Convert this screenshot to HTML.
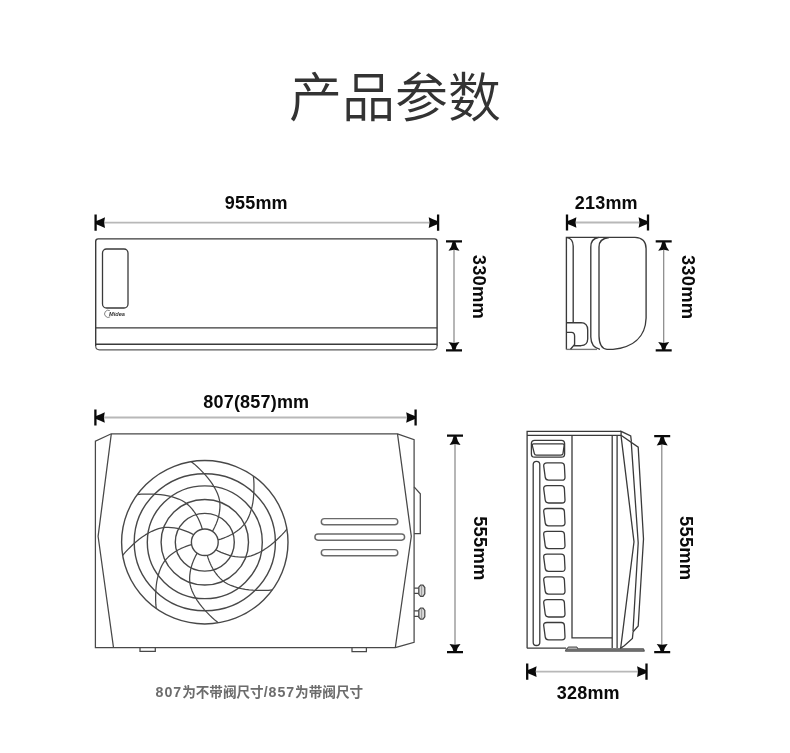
<!DOCTYPE html>
<html lang="zh-CN">
<head>
<meta charset="utf-8">
<title>产品参数</title>
<style>
html,body{margin:0;padding:0;background:#fff;}
body{width:790px;height:753px;overflow:hidden;position:relative;font-family:"Liberation Sans","Noto Sans CJK SC",sans-serif;}
h1{position:absolute;left:0;top:60px;width:790px;margin:0;text-align:center;font-size:53px;line-height:78px;font-weight:350;color:#333;letter-spacing:0;font-family:"Liberation Sans","Noto Sans CJK SC",sans-serif;}
svg{position:absolute;left:0;top:0;will-change:transform;}
.dim{font-family:"Liberation Sans",sans-serif;font-weight:700;fill:#0a0a0a;letter-spacing:0.2px;}
</style>
</head>
<body>
<h1>产品参数</h1>
<svg width="790" height="753" viewBox="0 0 790 753">
<g id="indoor-front" fill="none" stroke="#3a3a3a" stroke-width="1.4">
<path d="M95.7 346V241.4Q95.7 238.9 98.2 238.9H434.6Q437.1 238.9 437.1 241.4V346"/>
<path d="M95.7 346Q95.7 349.8 99.5 349.8H433.3Q437.1 349.8 437.1 346" stroke="#5a5a5a" stroke-width="1.2"/>
<path d="M95.8 327.9H437.1M95.8 344.3H437.1"/>
<rect x="102.5" y="249" width="25.5" height="59" rx="4" ry="4" stroke-width="1.3"/>
</g>
<path d="M109.8 310.6a3.6 3.6 0 1 0 0.4 6.2" fill="none" stroke="#666" stroke-width="0.8"/>
<text x="109" y="316.3" font-size="5.6" font-weight="700" font-style="italic" fill="#333" font-family="'Liberation Sans', sans-serif">Midea</text>
<line x1="104" y1="222.6" x2="429.7" y2="222.6" stroke="#b8b8b8" stroke-width="1.8"/>
<path d="M95.6 214.5V230.7M438.1 214.5V230.7" stroke="#0a0a0a" stroke-width="2.3" fill="none"/>
<path d="M95.6 221.3Q101.24 219.1 105 217.3L104.1 222.6L105 227.9Q101.24 226.1 95.6 223.9Z" fill="#0a0a0a"/>
<path d="M438.1 223.9Q432.46 226.1 428.7 227.9L429.6 222.6L428.7 217.3Q432.46 219.1 438.1 221.3Z" fill="#0a0a0a"/>
<text x="256.3" y="209.1" text-anchor="middle" class="dim" font-size="18">955mm</text>
<line x1="454" y1="249.7" x2="454" y2="343.1" stroke="#858585" stroke-width="1.2"/>
<path d="M446 241.4H462M446 350.4H462" stroke="#0a0a0a" stroke-width="2.3" fill="none"/>
<path d="M455.3 241.4Q456.31 246.98 459.5 250.7L454 249.8L448.5 250.7Q451.69 246.98 452.7 241.4Z" fill="#0a0a0a"/>
<path d="M452.7 350.4Q451.69 345.42 448.5 342.1L454 343L459.5 342.1Q456.31 345.42 455.3 350.4Z" fill="#0a0a0a"/>
<text transform="translate(473.2,286.9) rotate(90)" text-anchor="middle" class="dim" font-size="18.3" style="letter-spacing:0.25px">330mm</text>
<g id="indoor-side" fill="none" stroke="#3a3a3a" stroke-width="1.35">
<path d="M566.4 349.4V237.3H635C642.5 237.6 646.1 241.5 646.1 248.8V318C645.5 338 632 347.5 613 349.3H607Q599.3 348.6 599 336V247Q599 238.5 609 237.5"/>
<path d="M566.4 349.4H597" stroke="#777"/>
<path d="M567 237.6Q573 238.5 573.2 246V322.7"/>
<path d="M598.5 237.5Q590.8 238.5 590.8 247V337Q591 347.5 600 349.3"/>
<path d="M566.4 322.7H581Q587.7 323 587.7 330V339Q587.5 345.5 581 345.7H574"/>
<path d="M566.4 332.4H571.5Q574.6 332.6 574.6 336V344.5L570.5 349.2"/>
</g>
<line x1="575.4" y1="222.5" x2="639.6" y2="222.5" stroke="#b8b8b8" stroke-width="1.8"/>
<path d="M567 214.4V230.6M648 214.4V230.6" stroke="#0a0a0a" stroke-width="2.3" fill="none"/>
<path d="M567 221.2Q572.64 219 576.4 217.2L575.5 222.5L576.4 227.8Q572.64 226 567 223.8Z" fill="#0a0a0a"/>
<path d="M648 223.8Q642.36 226 638.6 227.8L639.5 222.5L638.6 217.2Q642.36 219 648 221.2Z" fill="#0a0a0a"/>
<text x="606.3" y="209.1" text-anchor="middle" class="dim" font-size="18">213mm</text>
<line x1="663.7" y1="249.7" x2="663.7" y2="343.1" stroke="#858585" stroke-width="1.2"/>
<path d="M655.7 241.4H671.7M655.7 350.4H671.7" stroke="#0a0a0a" stroke-width="2.3" fill="none"/>
<path d="M665 241.4Q666.01 246.98 669.2 250.7L663.7 249.8L658.2 250.7Q661.39 246.98 662.4 241.4Z" fill="#0a0a0a"/>
<path d="M662.4 350.4Q661.39 345.42 658.2 342.1L663.7 343L669.2 342.1Q666.01 345.42 665 350.4Z" fill="#0a0a0a"/>
<text transform="translate(682.2,287) rotate(90)" text-anchor="middle" class="dim" font-size="18.3" style="letter-spacing:0.25px">330mm</text>
<g id="outdoor-front" fill="none" stroke="#484848" stroke-width="1.25">
<path d="M111.3 433.8H397.5L414.1 439.7V642.3L401.5 645.9L395.3 647.6H95.4V441.1Z"/>
<path d="M111.3 433.8L98.1 536.3L113.5 647.6"/>
<path d="M397.5 433.8L411.3 536.3L395.3 647.6"/>
<path d="M140 647.6V651.3H155.3V647.6M352 647.6V651.6H366.4V647.6"/>
<path d="M414.1 486.9L420.3 493.8V533.6H414.1"/>
<g stroke="#6a6a6a" stroke-width="1.45">
<rect x="321.3" y="518.6" width="76.5" height="6.2" rx="3.1"/>
<rect x="314.9" y="534" width="89.7" height="6.2" rx="3.1"/>
<rect x="321.3" y="549.6" width="76.5" height="6.2" rx="3.1"/>
</g>
<path d="M414.1 588H418.8M414.1 593.4H418.8"/>
<path d="M418.8 587.1L420.6 585.1H423L424.8 587.5V593.9L423 596.3H420.6L418.8 594.3Z" fill="#d8d8d8"/>
<path d="M421.6 585.3V596.1" stroke="#888" stroke-width="0.8"/>
<path d="M414.1 610.9H418.8M414.1 616.3H418.8"/>
<path d="M418.8 610L420.6 608H423L424.8 610.4V616.8L423 619.2H420.6L418.8 617.2Z" fill="#d8d8d8"/>
<path d="M421.6 608.2V619" stroke="#888" stroke-width="0.8"/>
<ellipse cx="204.8" cy="542.25" rx="83.2" ry="81.7" stroke-width="1.4"/>
<ellipse cx="204.8" cy="542.25" rx="70.6" ry="68.5" stroke-width="1.4"/>
<ellipse cx="204.8" cy="542.25" rx="57.5" ry="56.4" stroke-width="1.4"/>
<ellipse cx="204.8" cy="542.25" rx="43.7" ry="42.8" stroke-width="1.4"/>
<ellipse cx="204.8" cy="542.25" rx="29.5" ry="28.9" stroke-width="1.4"/>
<ellipse cx="204.8" cy="542.25" rx="13.4" ry="13.3" stroke-width="1.4"/>
<path d="M215.82 549.73L218.41 551.07L221.05 552.31L223.76 553.44L226.53 554.45L229.36 555.32L232.27 556.03L235.23 556.58L238.26 556.96L241.35 557.13L244.51 557.05L247.75 556.66L251.06 555.87L254.42 554.68L257.76 553.18L261.05 551.46L264.26 549.6L267.41 547.5L270.48 545.19L273.46 542.73L276.34 540.17L279.12 537.56L281.82 534.88L284.42 532.07L286.91 529.06" stroke-width="1.25" stroke-linejoin="round"/>
<path d="M207.2 555.18L208.06 557.93L209.04 560.64L210.14 563.31L211.37 565.95L212.75 568.53L214.29 571.05L215.99 573.49L217.85 575.86L219.92 578.13L222.21 580.27L224.78 582.23L227.7 583.97L230.92 585.46L234.37 586.71L237.93 587.78L241.55 588.69L245.29 589.39L249.12 589.89L253 590.22L256.89 590.4L260.74 590.49L264.57 590.46L268.43 590.28L272.37 589.88" stroke-width="1.25" stroke-linejoin="round"/>
<path d="M197.17 553.06L195.81 555.6L194.55 558.19L193.39 560.85L192.36 563.56L191.48 566.34L190.75 569.2L190.19 572.11L189.8 575.07L189.63 578.11L189.71 581.21L190.11 584.38L190.92 587.63L192.13 590.92L193.66 594.2L195.41 597.43L197.31 600.58L199.45 603.67L201.8 606.68L204.31 609.6L206.93 612.43L209.58 615.16L212.31 617.8L215.17 620.36L218.25 622.8" stroke-width="1.25" stroke-linejoin="round"/>
<path d="M191.62 544.6L188.82 545.45L186.06 546.41L183.33 547.49L180.64 548.69L178.01 550.04L175.45 551.56L172.95 553.23L170.54 555.06L168.23 557.08L166.05 559.33L164.04 561.85L162.27 564.71L160.76 567.88L159.48 571.26L158.39 574.75L157.46 578.3L156.74 581.97L156.23 585.73L155.91 589.53L155.72 593.35L155.63 597.12L155.65 600.89L155.84 604.68L156.25 608.53" stroke-width="1.25" stroke-linejoin="round"/>
<path d="M193.78 534.77L191.19 533.43L188.55 532.19L185.84 531.06L183.07 530.05L180.24 529.18L177.33 528.47L174.37 527.92L171.34 527.54L168.25 527.37L165.09 527.45L161.85 527.84L158.54 528.63L155.18 529.82L151.84 531.32L148.55 533.04L145.34 534.9L142.19 537L139.12 539.31L136.14 541.77L133.26 544.33L130.48 546.94L127.78 549.62L125.18 552.43L122.69 555.44" stroke-width="1.25" stroke-linejoin="round"/>
<path d="M202.4 529.32L201.54 526.57L200.56 523.86L199.46 521.19L198.23 518.55L196.85 515.97L195.31 513.45L193.61 511.01L191.75 508.64L189.68 506.37L187.39 504.23L184.82 502.27L181.9 500.53L178.68 499.04L175.23 497.79L171.67 496.72L168.05 495.81L164.31 495.11L160.48 494.61L156.6 494.28L152.71 494.1L148.86 494.01L145.03 494.04L141.17 494.22L137.23 494.62" stroke-width="1.25" stroke-linejoin="round"/>
<path d="M212.43 531.44L213.79 528.9L215.05 526.31L216.21 523.65L217.24 520.94L218.12 518.16L218.85 515.3L219.41 512.39L219.8 509.43L219.97 506.39L219.89 503.29L219.49 500.12L218.68 496.87L217.47 493.58L215.94 490.3L214.19 487.07L212.29 483.92L210.15 480.83L207.8 477.82L205.29 474.9L202.67 472.07L200.02 469.34L197.29 466.7L194.43 464.14L191.35 461.7" stroke-width="1.25" stroke-linejoin="round"/>
<path d="M217.98 539.9L220.78 539.05L223.54 538.09L226.27 537.01L228.96 535.81L231.59 534.46L234.15 532.94L236.65 531.27L239.06 529.44L241.37 527.42L243.55 525.17L245.56 522.65L247.33 519.79L248.84 516.62L250.12 513.24L251.21 509.75L252.14 506.2L252.86 502.53L253.37 498.77L253.69 494.97L253.88 491.15L253.97 487.38L253.95 483.61L253.76 479.82L253.35 475.97" stroke-width="1.25" stroke-linejoin="round"/>
</g>
<line x1="103.8" y1="417.5" x2="407.2" y2="417.5" stroke="#b8b8b8" stroke-width="1.8"/>
<path d="M95.4 409.4V425.6M415.6 409.4V425.6" stroke="#0a0a0a" stroke-width="2.3" fill="none"/>
<path d="M95.4 416.2Q101.04 414 104.8 412.2L103.9 417.5L104.8 422.8Q101.04 421 95.4 418.8Z" fill="#0a0a0a"/>
<path d="M415.6 418.8Q409.96 421 406.2 422.8L407.1 417.5L406.2 412.2Q409.96 414 415.6 416.2Z" fill="#0a0a0a"/>
<text x="256.3" y="407.5" text-anchor="middle" class="dim" font-size="18">807(857)mm</text>
<line x1="455" y1="444" x2="455" y2="644.9" stroke="#858585" stroke-width="1.2"/>
<path d="M447 435.7H463M447 652.2H463" stroke="#0a0a0a" stroke-width="2.3" fill="none"/>
<path d="M456.3 435.7Q457.31 441.28 460.5 445L455 444.1L449.5 445Q452.69 441.28 453.7 435.7Z" fill="#0a0a0a"/>
<path d="M453.7 652.2Q452.69 647.22 449.5 643.9L455 644.8L460.5 643.9Q457.31 647.22 456.3 652.2Z" fill="#0a0a0a"/>
<text transform="translate(474,548.3) rotate(90)" text-anchor="middle" class="dim" font-size="18.3" style="letter-spacing:0.25px">555mm</text>
<g id="outdoor-side" fill="none" stroke="#3a3a3a" stroke-width="1.3">
<path d="M527.1 648.2V431.4H621.1M527.1 435.3H621"/>
<path d="M527.1 648.2H566" />
<path d="M572 435.3V637.9H612.2"/>
<path d="M612.2 435.3V648M617.1 435.3V648" stroke-width="1.3"/>
<path d="M621.1 435.3V431.4L630.7 436L631.4 441.6"/>
<path d="M621 435.3L638.2 447.1L643.5 539L638.2 626L633.1 631.8L632.4 638.4L624.3 645.7L620 648.6"/>
<path d="M631.2 441.6L638.2 543L633 631"/>
<path d="M621 435.3L634 541.8L620.7 648"/>
<path d="M566.3 648.8H643.6L644.4 651.2H565.4Z" fill="#7c7c7c" stroke="#444" stroke-width="0.9"/>
<path d="M567.2 648.8L568.2 647H577L577.8 648.8" fill="#bbb" stroke-width="0.9"/>
<rect x="531.4" y="440.4" width="33.2" height="16.8" rx="3.2"/>
<path d="M533.6 443.9H562.6Q564.4 444 564.1 445.8L563 453.4Q562.7 455.1 561 455.1H536.4Q534.7 455.1 534.3 453.4L532.4 445.8Q532 444 533.6 443.9Z"/>
<path d="M533.2 642.2V464.6A3.3 3.3 0 0 1 539.8 464.6V642.2A3.3 3.3 0 0 1 533.2 642.2Z"/>
<path d="M547 462.9H561.2Q564.3 462.9 564.4 465.9L565 477.2Q565.1 480.2 562 480.2H548.6Q545.6 480.2 545.2 477.2L543.7 465.9Q543.4 462.9 547 462.9Z"/>
<path d="M547 485.7H561.2Q564.3 485.7 564.4 488.7L565 500Q565.1 503 562 503H548.6Q545.6 503 545.2 500L543.7 488.7Q543.4 485.7 547 485.7Z"/>
<path d="M547 508.5H561.2Q564.3 508.5 564.4 511.5L565 522.8Q565.1 525.8 562 525.8H548.6Q545.6 525.8 545.2 522.8L543.7 511.5Q543.4 508.5 547 508.5Z"/>
<path d="M547 531.3H561.2Q564.3 531.3 564.4 534.3L565 545.6Q565.1 548.6 562 548.6H548.6Q545.6 548.6 545.2 545.6L543.7 534.3Q543.4 531.3 547 531.3Z"/>
<path d="M547 554.1H561.2Q564.3 554.1 564.4 557.1L565 568.4Q565.1 571.4 562 571.4H548.6Q545.6 571.4 545.2 568.4L543.7 557.1Q543.4 554.1 547 554.1Z"/>
<path d="M547 576.9H561.2Q564.3 576.9 564.4 579.9L565 591.2Q565.1 594.2 562 594.2H548.6Q545.6 594.2 545.2 591.2L543.7 579.9Q543.4 576.9 547 576.9Z"/>
<path d="M547 599.7H561.2Q564.3 599.7 564.4 602.7L565 614Q565.1 617 562 617H548.6Q545.6 617 545.2 614L543.7 602.7Q543.4 599.7 547 599.7Z"/>
<path d="M547 622.5H561.2Q564.3 622.5 564.4 625.5L565 636.8Q565.1 639.8 562 639.8H548.6Q545.6 639.8 545.2 636.8L543.7 625.5Q543.4 622.5 547 622.5Z"/>
</g>
<line x1="661.8" y1="444.4" x2="661.8" y2="644.9" stroke="#858585" stroke-width="1.2"/>
<path d="M654.2 436.1H670.2M654.2 652.2H670.2" stroke="#0a0a0a" stroke-width="2.3" fill="none"/>
<path d="M663.5 436.1Q664.51 441.68 667.7 445.4L662.2 444.5L656.7 445.4Q659.89 441.68 660.9 436.1Z" fill="#0a0a0a"/>
<path d="M660.9 652.2Q659.89 647.22 656.7 643.9L662.2 644.8L667.7 643.9Q664.51 647.22 663.5 652.2Z" fill="#0a0a0a"/>
<text transform="translate(680.3,548.2) rotate(90)" text-anchor="middle" class="dim" font-size="18.3" style="letter-spacing:0.25px">555mm</text>
<line x1="535.6" y1="671.6" x2="638.1" y2="671.6" stroke="#b8b8b8" stroke-width="1.8"/>
<path d="M527.2 663.5V679.7M646.5 663.5V679.7" stroke="#0a0a0a" stroke-width="2.3" fill="none"/>
<path d="M527.2 670.3Q532.84 668.1 536.6 666.3L535.7 671.6L536.6 676.9Q532.84 675.1 527.2 672.9Z" fill="#0a0a0a"/>
<path d="M646.5 672.9Q640.86 675.1 637.1 676.9L638 671.6L637.1 666.3Q640.86 668.1 646.5 670.3Z" fill="#0a0a0a"/>
<text x="588.3" y="699.3" text-anchor="middle" class="dim" font-size="18">328mm</text>
<text id="cap" x="155.6" y="697.4" font-size="13.6" font-weight="700" fill="#6c6c6c" font-family="'Liberation Sans', 'Noto Sans CJK SC', sans-serif"><tspan font-size="14.2" letter-spacing="0.95">807</tspan>为不带阀尺寸<tspan font-size="14.2" letter-spacing="0.95">/857</tspan>为带阀尺寸</text>
</svg>
</body>
</html>
